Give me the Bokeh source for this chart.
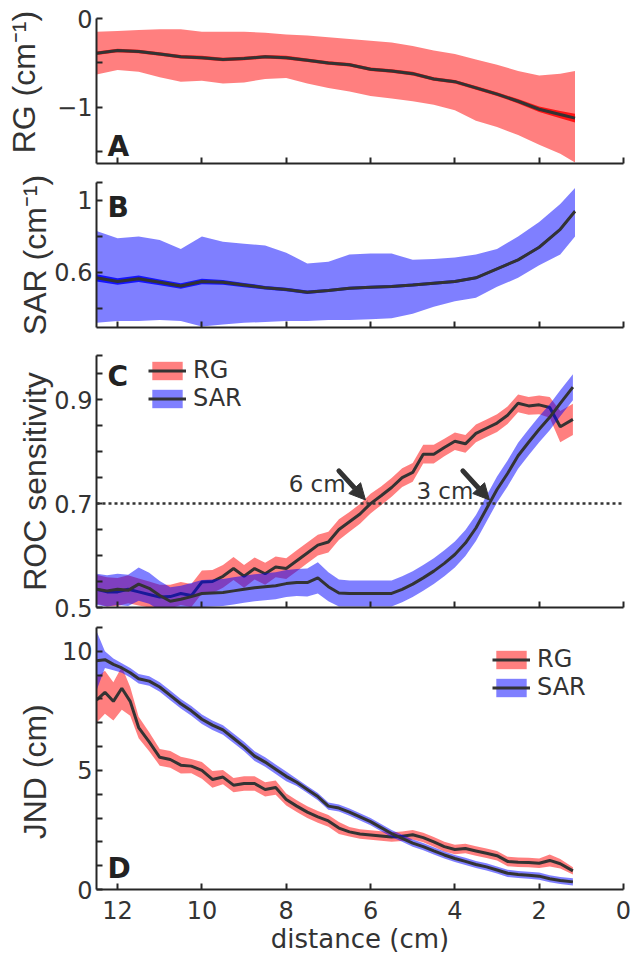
import numpy as np
from bokeh.plotting import figure
from bokeh.layouts import column
from bokeh.models import Range1d, FixedTicker, Span, Arrow, NormalHead, Label, Legend, LegendItem
from bokeh.embed import file_html
from bokeh.resources import INLINE

# ---------------- data ----------------
x_ticks = [12, 10, 8, 6, 4, 2, 0]

# Panel A / B (slope estimates)
ab_x = [12.5, 12.0, 11.5, 11.0, 10.5, 10.0, 9.5, 9.0, 8.5, 8.0, 7.5, 7.0,
        6.5, 6.0, 5.5, 5.0, 4.5, 4.0, 3.5, 3.0, 2.5, 2.0, 1.5, 1.15]
rg_slope = [-0.39, -0.36, -0.37, -0.40, -0.43, -0.44, -0.46, -0.45, -0.43, -0.44, -0.47, -0.50,
            -0.52, -0.57, -0.59, -0.62, -0.68, -0.71, -0.78, -0.85, -0.93, -1.02, -1.08, -1.12]
rg_slope_hi = [-0.15, -0.14, -0.13, -0.12, -0.12, -0.15, -0.15, -0.15, -0.16, -0.18, -0.19, -0.21,
               -0.23, -0.25, -0.27, -0.31, -0.36, -0.40, -0.46, -0.52, -0.59, -0.64, -0.62, -0.59]
rg_slope_lo = [-0.63, -0.58, -0.60, -0.66, -0.71, -0.70, -0.73, -0.72, -0.68, -0.67, -0.73, -0.78,
               -0.82, -0.87, -0.90, -0.93, -0.97, -1.03, -1.15, -1.22, -1.31, -1.42, -1.52, -1.62]
rg_slope_sem = [0.02, 0.02, 0.02, 0.02, 0.02, 0.02, 0.02, 0.02, 0.02, 0.02, 0.02, 0.02,
                0.02, 0.02, 0.02, 0.02, 0.02, 0.02, 0.02, 0.02, 0.025, 0.03, 0.04, 0.05]

sar_slope = [0.57, 0.55, 0.565, 0.545, 0.525, 0.55, 0.545, 0.53, 0.515, 0.505, 0.49, 0.50,
             0.512, 0.518, 0.522, 0.53, 0.54, 0.55, 0.57, 0.62, 0.67, 0.74, 0.84, 0.94]
sar_slope_hi = [0.83, 0.79, 0.80, 0.78, 0.73, 0.80, 0.77, 0.76, 0.75, 0.71, 0.65, 0.66,
                0.70, 0.705, 0.705, 0.67, 0.675, 0.683, 0.70, 0.73, 0.80, 0.88, 0.98, 1.07]
sar_slope_lo = [0.32, 0.33, 0.33, 0.335, 0.33, 0.30, 0.31, 0.32, 0.325, 0.33, 0.33, 0.335,
                0.335, 0.34, 0.345, 0.37, 0.41, 0.44, 0.46, 0.52, 0.57, 0.64, 0.70, 0.80]
sar_slope_sem = [0.02, 0.018, 0.018, 0.016, 0.015, 0.015, 0.013, 0.012, 0.01, 0.01, 0.01, 0.008,
                 0.008, 0.008, 0.008, 0.008, 0.008, 0.008, 0.008, 0.008, 0.008, 0.008, 0.008, 0.008]

# Panel C (ROC sensitivity)
c_x = [12.5, 12.25, 12.0, 11.75, 11.5, 11.25, 11.0, 10.75, 10.5, 10.25, 10.0, 9.75, 9.5, 9.25,
       9.0, 8.75, 8.5, 8.25, 8.0, 7.75, 7.5, 7.25, 7.0, 6.75, 6.5, 6.25, 6.0, 5.75, 5.5, 5.25,
       5.0, 4.75, 4.5, 4.25, 4.0, 3.75, 3.5, 3.25, 3.0, 2.75, 2.5, 2.25, 2.0, 1.75, 1.5, 1.2]
rg_roc = [0.535, 0.53, 0.53, 0.535, 0.53, 0.525, 0.52, 0.521, 0.527, 0.523, 0.549, 0.55, 0.56, 0.575,
          0.56, 0.575, 0.565, 0.578, 0.575, 0.59, 0.605, 0.62, 0.626, 0.65, 0.665, 0.68, 0.70, 0.715,
          0.731, 0.75, 0.76, 0.795, 0.795, 0.808, 0.82, 0.815, 0.835, 0.845, 0.855, 0.87, 0.893,
          0.888, 0.89, 0.885, 0.848, 0.862]
rg_roc_sd = [0.028, 0.028, 0.027, 0.027, 0.026, 0.025, 0.024, 0.023, 0.022, 0.022, 0.022, 0.022,
             0.022, 0.022, 0.022, 0.021, 0.021, 0.02, 0.02, 0.02, 0.02, 0.02, 0.02, 0.02, 0.019,
             0.019, 0.019, 0.018, 0.018, 0.018, 0.018, 0.018, 0.018, 0.017, 0.017, 0.017, 0.017,
             0.017, 0.017, 0.017, 0.017, 0.017, 0.018, 0.02, 0.03, 0.03]
sar_roc = [0.535, 0.532, 0.535, 0.533, 0.545, 0.537, 0.523, 0.512, 0.516, 0.521, 0.527, 0.528,
           0.529, 0.532, 0.535, 0.538, 0.54, 0.542, 0.546, 0.548, 0.548, 0.557, 0.54, 0.528, 0.527,
           0.527, 0.527, 0.527, 0.527, 0.535, 0.545, 0.557, 0.57, 0.585, 0.602, 0.624, 0.653, 0.69,
           0.727, 0.758, 0.792, 0.818, 0.843, 0.866, 0.893, 0.924]
sar_roc_sd = [0.03, 0.03, 0.03, 0.03, 0.032, 0.03, 0.028, 0.027, 0.026, 0.026, 0.026, 0.026,
              0.026, 0.026, 0.026, 0.026, 0.026, 0.026, 0.026, 0.026, 0.027, 0.03, 0.028, 0.026,
              0.025, 0.025, 0.025, 0.025, 0.025, 0.025, 0.025, 0.025, 0.025, 0.025, 0.025, 0.025,
              0.025, 0.025, 0.025, 0.025, 0.025, 0.025, 0.025, 0.025, 0.025, 0.025]
threshold = 0.7
cross_x = [6.12, 3.18]          # where each curve reaches the threshold
cross_text = ["6 cm", "3 cm"]
cross_text_dx = [0.47, 0.38]
cross_text_dy = [0.038, 0.025]

# Panel D (JND)
d_x = [12.5, 12.3, 12.1, 11.9, 11.7, 11.5, 11.25, 11.0, 10.75, 10.5, 10.25, 10.0, 9.75, 9.5,
       9.25, 9.0, 8.75, 8.5, 8.25, 8.0, 7.75, 7.5, 7.25, 7.0, 6.75, 6.5, 6.25, 6.0, 5.75, 5.5,
       5.25, 5.0, 4.75, 4.5, 4.25, 4.0, 3.75, 3.5, 3.25, 3.0, 2.75, 2.5, 2.25, 2.0, 1.75, 1.5, 1.2]
rg_jnd = [7.95, 8.28, 7.9, 8.45, 7.9, 6.8, 6.2, 5.55, 5.46, 5.22, 5.18, 5.0, 4.62, 4.72,
          4.38, 4.45, 4.45, 4.2, 4.28, 3.78, 3.5, 3.25, 3.05, 2.88, 2.58, 2.42, 2.33, 2.29, 2.25,
          2.2, 2.24, 2.3, 2.18, 2.0, 1.8, 1.68, 1.72, 1.62, 1.52, 1.42, 1.18, 1.14, 1.13, 1.1,
          1.22, 1.08, 0.78]
rg_jnd_sd = [0.95, 0.9, 0.8, 0.9, 0.6, 0.45, 0.4, 0.35, 0.35, 0.35, 0.3, 0.35, 0.35, 0.3,
             0.3, 0.3, 0.3, 0.3, 0.3, 0.25, 0.25, 0.25, 0.25, 0.25, 0.25, 0.2, 0.2, 0.2, 0.2, 0.2,
             0.2, 0.2, 0.2, 0.2, 0.2, 0.2, 0.2, 0.2, 0.2, 0.2, 0.2, 0.2, 0.2, 0.2, 0.25, 0.2, 0.15]
sar_jnd = [9.6, 9.65, 9.45, 9.3, 9.1, 8.85, 8.75, 8.5, 8.15, 7.8, 7.5, 7.15, 6.9, 6.7,
           6.35, 6.0, 5.6, 5.35, 5.05, 4.75, 4.5, 4.2, 3.9, 3.5, 3.42, 3.25, 3.05, 2.85, 2.6,
           2.35, 2.15, 1.95, 1.8, 1.62, 1.45, 1.3, 1.18, 1.05, 0.95, 0.82, 0.68, 0.63, 0.6, 0.56,
           0.45, 0.38, 0.32]
sar_jnd_sd = [1.25, 0.35, 0.25] + [0.2] * 17 + [0.15] * 27

# ---------------- style ----------------
AX = "#262626"
TXT = "#333333"
LINE = "#333333"
RED = "#ff0000"
BLUE = "#0000ff"
LW = 3
W = 631
BL, BR = 96, 8
TICK_FONT = "DejaVu Sans"
NB = "\u00a0"


def make_fig(h, top, bottom, ylim):
    p = figure(width=W, height=h, x_range=Range1d(12.5, 0), y_range=Range1d(*ylim),
               output_backend="svg", toolbar_location=None,
               min_border_left=BL, min_border_right=BR, min_border_top=top,
               min_border_bottom=bottom)
    p.outline_line_color = None
    p.xgrid.visible = False
    p.ygrid.visible = False
    for ax in (p.xaxis[0], p.yaxis[0]):
        ax.axis_line_width = 2
        ax.axis_line_color = AX
        ax.major_tick_line_width = 2
        ax.major_tick_line_color = AX
        ax.major_tick_in = 6
        ax.major_tick_out = 0
        ax.minor_tick_line_width = 2
        ax.minor_tick_line_color = AX
        ax.minor_tick_in = 6
        ax.minor_tick_out = 0
        ax.major_label_text_font = TICK_FONT
        ax.major_label_text_font_size = "24px"
        ax.major_label_text_color = TXT
    return p


def set_y(p, labeled, unlabeled, title, standoff):
    ya = p.yaxis[0]
    ya.ticker = FixedTicker(ticks=labeled, minor_ticks=unlabeled)
    ya.major_label_standoff = 4
    ya.axis_label = title
    ya.axis_label_text_font = "Liberation Sans"
    ya.axis_label_text_font_size = "32px"
    ya.axis_label_text_font_style = "normal"
    ya.axis_label_text_color = TXT
    ya.axis_label_standoff = standoff


def plain_x(p):
    xa = p.xaxis[0]
    xa.ticker = FixedTicker(ticks=[], minor_ticks=x_ticks)
    xa.major_label_standoff = 0


def letter(p, txt, y):
    p.add_layout(Label(x=12.5, y=y, x_offset=11, y_offset=9, text=txt, text_font="DejaVu Sans",
                       text_font_style="bold", text_font_size="28px", text_color="#222222",
                       text_baseline="alphabetic"))


def legend(p, items, loc):
    leg = Legend(items=items, location=loc, background_fill_alpha=0, border_line_alpha=0,
                 glyph_width=38, glyph_height=23, label_height=23, spacing=0, padding=0,
                 margin=0, label_standoff=7, label_text_font=TICK_FONT,
                 label_text_font_size="24px", label_text_color=TXT)
    p.add_layout(leg)


# ---------------- panel A ----------------
pA = make_fig(172, 18, 9, (-1.63, 0))
plain_x(pA)
set_y(pA, [0, -1], [-0.5, -1.5], NB + NB + "RG (cm⁻¹)", 12)
rs = np.array(rg_slope)
rsem = np.array(rg_slope_sem)
pA.varea(x=ab_x, y1=rg_slope_lo, y2=rg_slope_hi, fill_color=RED, fill_alpha=0.5)
pA.varea(x=ab_x, y1=rs - rsem, y2=rs + rsem, fill_color=RED, fill_alpha=0.85)
pA.line(ab_x, rg_slope, line_color=LINE, line_width=LW)
letter(pA, "A", -1.54)

# ---------------- panel B ----------------
pB = make_fig(162, 10, 7, (0.294, 1.1))
plain_x(pB)
set_y(pB, [0.6, 1.0], [0.4, 0.8, 1.1], "SAR (cm⁻¹)", -2)
pB.yaxis[0].major_label_overrides = {1.0: "1"}
ss = np.array(sar_slope)
ssem = np.array(sar_slope_sem)
pB.varea(x=ab_x, y1=sar_slope_lo, y2=sar_slope_hi, fill_color=BLUE, fill_alpha=0.5)
pB.varea(x=ab_x, y1=ss - ssem, y2=ss + ssem, fill_color=BLUE, fill_alpha=0.85)
pB.line(ab_x, sar_slope, line_color=LINE, line_width=LW)
letter(pB, "B", 0.913)

# ---------------- panel C ----------------
pC = make_fig(288, 21, 15, (0.5, 0.985))
plain_x(pC)
set_y(pC, [0.5, 0.7, 0.9], [0.55, 0.6, 0.65, 0.75, 0.8, 0.85, 0.95, 0.985],
      "ROC sensitivity", -2)
rr = np.array(rg_roc); rrs = np.array(rg_roc_sd)
sr = np.array(sar_roc); srs = np.array(sar_roc_sd)
c_rb = pC.varea(x=c_x, y1=rr - rrs, y2=rr + rrs, fill_color=RED, fill_alpha=0.5)
c_rl = pC.line(c_x, rg_roc, line_color=LINE, line_width=LW)
c_sb = pC.varea(x=c_x, y1=sr - srs, y2=sr + srs, fill_color=BLUE, fill_alpha=0.5)
c_sl = pC.line(c_x, sar_roc, line_color=LINE, line_width=LW)
pC.add_layout(Span(location=threshold, dimension="width", line_color=LINE,
                   line_width=2.5, line_dash="3 3"))
for cx, txt, tdx, tdy in zip(cross_x, cross_text, cross_text_dx, cross_text_dy):
    pC.add_layout(Arrow(end=NormalHead(size=16, fill_color=LINE, line_color=LINE, line_width=1),
                        x_start=cx + 0.63, y_start=threshold + 0.063,
                        x_end=cx, y_end=threshold + 0.007,
                        line_color=LINE, line_width=5, line_cap="round"))
    pC.add_layout(Label(x=cx + tdx, y=threshold + tdy, text=txt, text_align="right",
                        text_baseline="alphabetic", text_font=TICK_FONT,
                        text_font_size="23px", text_color=TXT))
legend(pC, [LegendItem(label="RG", renderers=[c_rb, c_rl]),
            LegendItem(label="SAR", renderers=[c_sb, c_sl])], (52, 195))
letter(pC, "C", 0.927)

# ---------------- panel D ----------------
pD = make_fig(339, 5, 72, (0, 11))
set_y(pD, [0, 5, 10], [1, 2, 3, 4, 6, 7, 8, 9, 11], "JND (cm)" + NB * 3, 6)
xa = pD.xaxis[0]
xa.ticker = FixedTicker(ticks=x_ticks)
xa.major_label_standoff = 11
xa.axis_label = "distance (cm)"
xa.axis_label_text_font = TICK_FONT
xa.axis_label_text_font_size = "26px"
xa.axis_label_text_font_style = "normal"
xa.axis_label_text_color = TXT
xa.axis_label_standoff = 2
rj = np.array(rg_jnd); rjs = np.array(rg_jnd_sd)
sj = np.array(sar_jnd); sjs = np.array(sar_jnd_sd)
d_rb = pD.varea(x=d_x, y1=rj - rjs, y2=rj + rjs, fill_color=RED, fill_alpha=0.5)
d_rl = pD.line(d_x, rg_jnd, line_color=LINE, line_width=LW)
d_sb = pD.varea(x=d_x, y1=sj - sjs, y2=sj + sjs, fill_color=BLUE, fill_alpha=0.5)
d_sl = pD.line(d_x, sar_jnd, line_color=LINE, line_width=LW)
legend(pD, [LegendItem(label="RG", renderers=[d_rb, d_rl]),
            LegendItem(label="SAR", renderers=[d_sb, d_sl])], (396, 188))
letter(pD, "D", 0.52)

layout = column(pA, pB, pC, pD, spacing=0)
open("out.html", "w").write(file_html(layout, INLINE))
